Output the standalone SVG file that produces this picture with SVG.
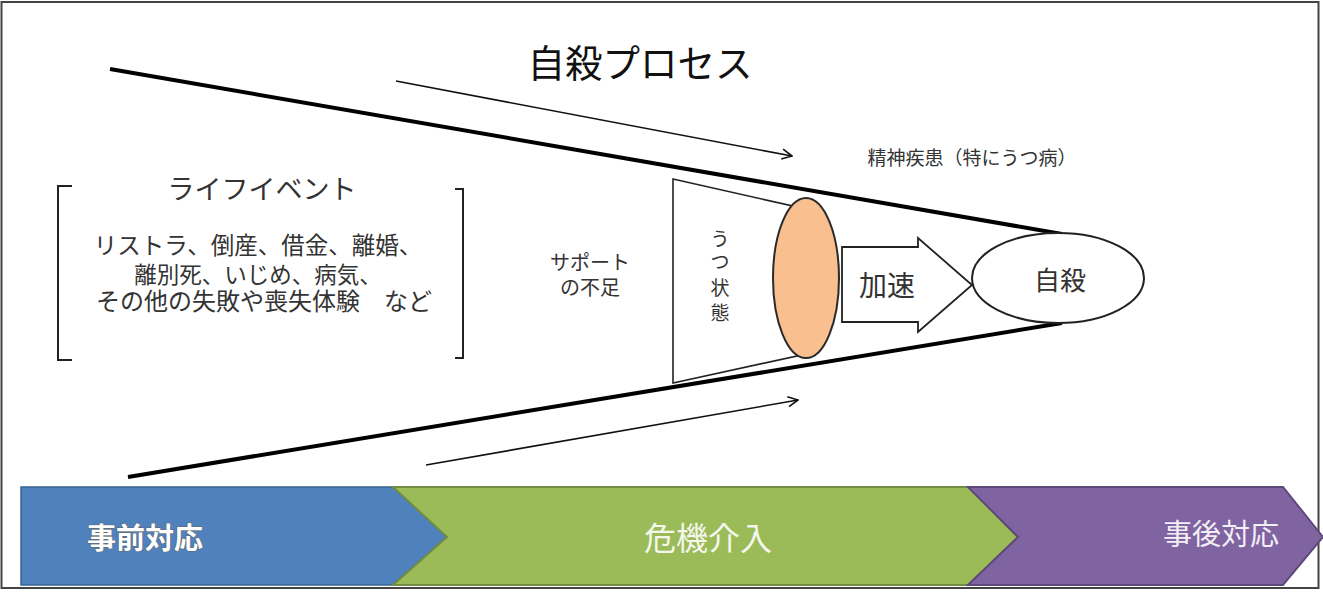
<svg xmlns="http://www.w3.org/2000/svg" width="1323" height="592" viewBox="0 0 1323 592">
<defs>
<style>
text{font-family:"Noto Sans CJK JP","Noto Sans",sans-serif;}
.dark{fill:#222;}
.gray{fill:#333;}
.thick{stroke:#000;stroke-width:4;fill:none;}
.thin{stroke:#111;stroke-width:1.6;fill:none;}
.bracket{stroke:#222;stroke-width:2;fill:none;}
</style>
<marker id="open" viewBox="0 0 12 12" refX="11" refY="6" markerWidth="12" markerHeight="12" markerUnits="userSpaceOnUse" orient="auto">
<path d="M1,1 L11,6 L1,11" fill="none" stroke="#111" stroke-width="1.6"/>
</marker>
</defs>
<rect x="0" y="0" width="1323" height="592" fill="#fff"/>
<rect x="1.5" y="2" width="1317" height="586" fill="#fff" stroke="#444" stroke-width="2"/>

<g id="title"><text x="640" y="77" font-size="37.5" text-anchor="middle" fill="#111">自殺プロセス</text></g>

<g id="funnel">
<line class="thick" x1="110" y1="69" x2="1062" y2="234"/>
<line class="thick" x1="128" y1="477" x2="1062" y2="323"/>
</g>

<g id="connectors">
<line class="thin" x1="396" y1="81" x2="792" y2="156" marker-end="url(#open)"/>
<line class="thin" x1="426" y1="465" x2="798" y2="400" marker-end="url(#open)"/>
</g>

<g id="mental-illness"><text x="972" y="165" font-size="19" text-anchor="middle" class="gray">精神疾患（特にうつ病）</text></g>

<g id="life-events">
<path class="bracket" d="M72,186 L58,186 L58,360 L72,360"/>
<path class="bracket" d="M455,189 L463,189 L463,358 L455,358"/>
<text x="262" y="199" font-size="27" text-anchor="middle" class="gray">ライフイベント</text>
<text x="258" y="254" font-size="23.5" text-anchor="middle" class="gray">リストラ、倒産、借金、離婚、</text>
<text x="258" y="283" font-size="22.5" text-anchor="middle" class="gray">離別死、いじめ、病気、</text>
<text x="264" y="310" font-size="24" text-anchor="middle" class="gray">その他の失敗や喪失体験　など</text>
</g>

<g id="support"><text x="590" y="270" font-size="20" text-anchor="middle" class="gray">サポート</text><text x="590" y="295" font-size="20" text-anchor="middle" class="gray">の不足</text></g>

<g id="depression">
<polygon points="673,179 806,209 806,354 673,383" fill="#fff" stroke="#222" stroke-width="1.6"/>
<text x="720" font-size="19" text-anchor="middle" class="gray"><tspan x="720" y="246">う</tspan><tspan x="720" y="269">つ</tspan><tspan x="720" y="295">状</tspan><tspan x="720" y="320">態</tspan></text>
</g>

<g id="mental-ellipse"><ellipse cx="806" cy="278" rx="33" ry="80" fill="#F9BF8E" stroke="#2a2a2a" stroke-width="2"/></g>

<g id="acceleration">
<polygon points="842,247 918,247 918,238 972,285 918,332 918,322 842,322" fill="#fff" stroke="#222" stroke-width="1.8"/>
<text x="887" y="296" font-size="28" text-anchor="middle" class="gray">加速</text>
</g>

<g id="suicide">
<ellipse cx="1058" cy="278" rx="86" ry="45" fill="#fff" stroke="#222" stroke-width="2"/>
<text x="1060" y="290" font-size="26" text-anchor="middle" class="gray">自殺</text>
</g>

<g id="phase-pre">
<polygon points="21,487 393,487 447,537 393,585 21,585" fill="#4F81BD" stroke="#3A6493" stroke-width="1.5"/>
<text x="145" y="549" font-size="29" font-weight="bold" text-anchor="middle" fill="#fff" stroke="#666" stroke-width="1" paint-order="stroke">事前対応</text>
</g>
<g id="phase-crisis">
<polygon points="393,487 968,487 1018,537 968,585 393,585 447,537" fill="#9BBB59" stroke="#728C40" stroke-width="2"/>
<text x="708" y="550" font-size="32" text-anchor="middle" fill="#F4F7EC">危機介入</text>
</g>
<g id="phase-post">
<polygon points="968,487 1283,487 1323,537 1283,585 968,585 1018,537" fill="#8064A2" stroke="#5E4A7A" stroke-width="2"/>
<text x="1221" y="545" font-size="29" text-anchor="middle" fill="#F2EEF6">事後対応</text>
</g>
</svg>
